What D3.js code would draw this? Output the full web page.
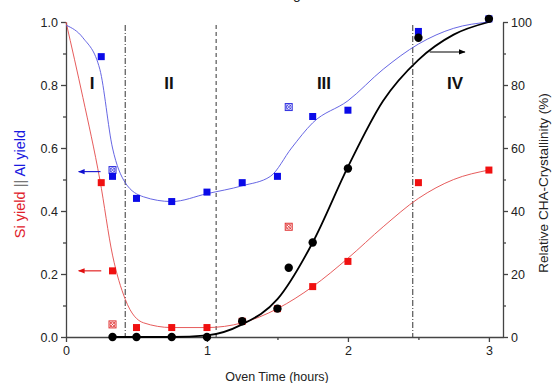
<!DOCTYPE html>
<html>
<head>
<meta charset="utf-8">
<script src="https://cdn.jsdelivr.net/npm/d3@7"></script>
<style>
  body { margin: 0; background: #fff; }
  svg { font-family: "Liberation Sans", Arial, sans-serif; }
  .axis path, .axis line { stroke: #444; stroke-width: 1.3; }
  .axis text { font-size: 12.5px; fill: #222; }
</style>
</head>
<body>
<svg id="chart" width="552" height="383"></svg>
<script>
// measured points
const alTime = [0.25, 0.33, 0.5, 0.75, 1.0, 1.25, 1.5, 1.75, 2.0, 2.5, 3.0];
const alYield = [0.89, 0.51, 0.44, 0.43, 0.46, 0.49, 0.51, 0.70, 0.72, 0.97, 1.01];
const siTime = [0.25, 0.33, 0.5, 0.75, 1.0, 1.25, 1.5, 1.75, 2.0, 2.5, 3.0];
const siYield = [0.49, 0.21, 0.03, 0.03, 0.03, 0.05, 0.09, 0.16, 0.24, 0.49, 0.53];
const crTime = [0.33, 0.5, 0.75, 1.0, 1.25, 1.5, 1.58, 1.75, 2.0, 2.5, 3.0];
const crValue = [0, 0, 0, 0, 5, 9, 22, 30, 53.5, 95, 101];
// open (crossed) points
const alOpen = [[0.33, 0.53], [1.58, 0.73]];
const siOpen = [[0.33, 0.04], [1.58, 0.35]];

// fitted curves
const alFitT = [0, 0.12, 0.24, 0.33, 0.42, 0.55, 0.75, 1.0, 1.25, 1.45, 1.6, 1.75, 2.0, 2.25, 2.5, 2.75, 3.0];
const alFitY = [0.99, 0.95, 0.85, 0.60, 0.49, 0.445, 0.43, 0.455, 0.48, 0.51, 0.60, 0.68, 0.75, 0.85, 0.93, 0.98, 1.0];
const siFitT = [0, 0.12, 0.24, 0.33, 0.42, 0.55, 0.75, 1.0, 1.25, 1.5, 1.75, 2.0, 2.25, 2.5, 2.75, 3.0];
const siFitY = [1.0, 0.76, 0.50, 0.26, 0.12, 0.045, 0.03, 0.03, 0.045, 0.09, 0.16, 0.25, 0.35, 0.44, 0.50, 0.53];
const crFitT = [0.33, 0.75, 1.0, 1.25, 1.5, 1.75, 2.0, 2.25, 2.5, 2.75, 3.0];
const crFitY = [0, 0, 0.5, 4, 12, 30, 54, 75, 88, 96, 100];

const dividers = [0.42, 1.065, 2.46];
const dividerDash = ["6,2,1,2", "4,3", "6,2,1,2"];
const regions = [["I", 0.185], ["II", 0.73], ["III", 1.83], ["IV", 2.76]];

const svg = d3.select("#chart");
const x = d3.scaleLinear().domain([0, 3.1]).range([66, 503]);
const y = d3.scaleLinear().domain([0, 1]).range([337, 22]);
const y2 = d3.scaleLinear().domain([0, 100]).range([337, 22]);

// axes
svg.append("g").attr("class", "axis").attr("transform", "translate(0,337)")
  .call(d3.axisBottom(x).tickValues([0, 1, 2, 3]).tickFormat(d3.format("d")).tickSizeInner(5).tickSizeOuter(0).tickPadding(4));
svg.append("g").attr("class", "axis").attr("transform", "translate(0,337)")
  .call(d3.axisBottom(x).tickValues([0.5, 1.5, 2.5]).tickFormat("").tickSizeInner(3).tickSizeOuter(0))
  .select(".domain").remove();

svg.append("g").attr("class", "axis").attr("transform", "translate(66,0)")
  .call(d3.axisLeft(y).tickValues([0, 0.2, 0.4, 0.6, 0.8, 1.0]).tickFormat(d3.format(".1f")).tickSizeInner(5).tickSizeOuter(0).tickPadding(3));
svg.append("g").attr("class", "axis").attr("transform", "translate(66,0)")
  .call(d3.axisLeft(y).tickValues([0.1, 0.3, 0.5, 0.7, 0.9]).tickFormat("").tickSizeInner(3).tickSizeOuter(0))
  .select(".domain").remove();

svg.append("g").attr("class", "axis").attr("transform", "translate(503,0)")
  .call(d3.axisRight(y2).tickValues([0, 20, 40, 60, 80, 100]).tickSizeInner(5).tickSizeOuter(0).tickPadding(3));
svg.append("g").attr("class", "axis").attr("transform", "translate(503,0)")
  .call(d3.axisRight(y2).tickValues([10, 30, 50, 70, 90]).tickFormat("").tickSizeInner(3).tickSizeOuter(0))
  .select(".domain").remove();

// axis titles
svg.append("text").attr("x", 277).attr("y", 381).attr("text-anchor", "middle")
  .attr("font-size", 12.5).attr("fill", "#222").text("Oven Time (hours)");
const lt = svg.append("text").attr("transform", "translate(25,184)rotate(-90)")
  .attr("text-anchor", "middle").attr("font-size", 14.5);
lt.append("tspan").attr("fill", "#e0202a").text("Si yield ");
lt.append("tspan").attr("fill", "#777").text("|| ");
lt.append("tspan").attr("fill", "#1a1adf").text("Al yield");
svg.append("text").attr("transform", "translate(548,183)rotate(-90)")
  .attr("text-anchor", "middle").attr("font-size", 13.5).attr("fill", "#222")
  .text("Relative CHA-Crystallinity (%)");
svg.append("text").attr("x", 293).attr("y", -1).attr("font-size", 14).attr("fill", "#222").text("g");

// dividers
svg.selectAll(".divider").data(dividers).join("line")
  .attr("x1", d => x(d)).attr("x2", d => x(d)).attr("y1", 25).attr("y2", 337)
  .attr("stroke", "#333").attr("stroke-width", 1).attr("stroke-dasharray", (d, i) => dividerDash[i]);

svg.selectAll(".region").data(regions).join("text")
  .attr("x", d => x(d[1])).attr("y", 89).attr("text-anchor", "middle")
  .attr("font-size", 17).attr("font-weight", "bold").attr("fill", "#111").text(d => d[0]);

// fitted lines
const line = (sy) => d3.line().x(d => x(d[0])).y(d => sy(d[1])).curve(d3.curveMonotoneX);
svg.append("path").datum(d3.zip(siFitT, siFitY)).attr("d", line(y))
  .attr("fill", "none").attr("stroke", "#e34a4a").attr("stroke-width", 0.9);
svg.append("path").datum(d3.zip(alFitT, alFitY)).attr("d", line(y))
  .attr("fill", "none").attr("stroke", "#5555e0").attr("stroke-width", 0.9);
svg.append("path").datum(d3.zip(crFitT, crFitY)).attr("d", line(y2))
  .attr("fill", "none").attr("stroke", "#000").attr("stroke-width", 1.8);

// arrows
const defs = svg.append("defs");
[["ar", "#e01010"], ["ab", "#1010d0"], ["ak", "#000"]].forEach(([id, c]) => {
  defs.append("marker").attr("id", id).attr("viewBox", "0 0 10 10").attr("refX", 9).attr("refY", 5)
    .attr("markerWidth", 6).attr("markerHeight", 6).attr("orient", "auto")
    .append("path").attr("d", "M0,1L10,5L0,9z").attr("fill", c);
});
const arrows = [[0.245, 0.09, 0.525, "#1010d0", "ab", y], [0.25, 0.09, 0.21, "#e01010", "ar", y], [2.58, 2.83, 90.5, "#000", "ak", y2]];
arrows.forEach(([a, b, v, c, m, sc]) => {
  svg.append("line").attr("x1", x(a)).attr("x2", x(b)).attr("y1", sc(v)).attr("y2", sc(v))
    .attr("stroke", c).attr("stroke-width", 1.1).attr("marker-end", `url(#${m})`);
});

// markers
const sq = 7;
const squares = (t, v, color) => svg.append("g").selectAll("rect").data(d3.zip(t, v)).join("rect")
  .attr("x", d => x(d[0]) - sq / 2).attr("y", d => y(d[1]) - sq / 2)
  .attr("width", sq).attr("height", sq).attr("fill", color);
const openSquares = (pts, color) => {
  const g = svg.append("g").selectAll("g").data(pts).join("g")
    .attr("transform", d => `translate(${x(d[0])},${y(d[1])})`);
  g.append("rect").attr("x", -3.5).attr("y", -3.5).attr("width", 7).attr("height", 7)
    .attr("fill", "#fff").attr("stroke", color).attr("stroke-width", 1);
  g.append("circle").attr("r", 2.4).attr("fill", "none").attr("stroke", color).attr("stroke-width", 0.8);
  g.append("path").attr("d", "M-2.6,-2.6L2.6,2.6M-2.6,2.6L2.6,-2.6").attr("stroke", color).attr("stroke-width", 0.8);
};
openSquares(siOpen, "#e03030");
openSquares(alOpen, "#3030e0");
squares(siTime, siYield, "#f01010");
squares(alTime, alYield, "#0a0ae8");
svg.append("g").selectAll("circle").data(d3.zip(crTime, crValue)).join("circle")
  .attr("cx", d => x(d[0])).attr("cy", d => y2(d[1])).attr("r", 4.2).attr("fill", "#000");
</script>
</body>
</html>
